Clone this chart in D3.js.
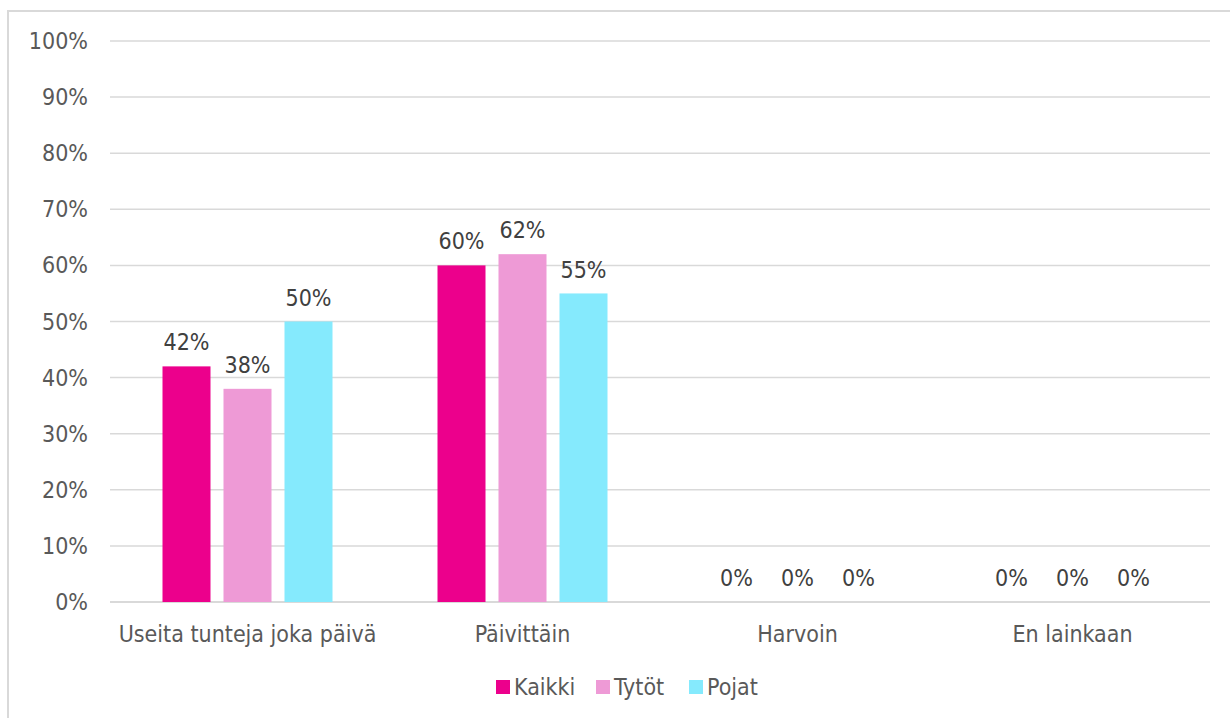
<!DOCTYPE html>
<html>
<head>
<meta charset="utf-8">
<script src="https://cdn.jsdelivr.net/npm/d3@7"></script>
<style>
  body { margin: 0; background: #fff; }
  svg { display: block; font-family: "DejaVu Sans Condensed", "DejaVu Sans", sans-serif; }
</style>
</head>
<body>
<div id="chart"></div>
<script>
// data
const categories = ["Useita tunteja joka päivä", "Päivittäin", "Harvoin", "En lainkaan"];
const seriesNames = ["Kaikki", "Tytöt", "Pojat"];
const kaikki = [42, 60, 0, 0];
const tytot = [38, 62, 0, 0];
const pojat = [50, 55, 0, 0];
const yTicks = [0, 10, 20, 30, 40, 50, 60, 70, 80, 90, 100];

const colors = ["#EC008C", "#EE9AD6", "#85EAFD"];
const seriesValues = [kaikki, tytot, pojat];

const W = 1230, H = 718;
const plot = {left: 110, right: 1210, top: 41, bottom: 602};

const svg = d3.select("#chart").append("svg")
    .attr("width", W)
    .attr("height", H);

// chart frame
svg.append("rect")
    .attr("x", 8).attr("y", 11)
    .attr("width", 1240).attr("height", 740)
    .attr("fill", "#fff")
    .attr("stroke", "#d9d9d9")
    .attr("stroke-width", 2);

const x0 = d3.scaleBand().domain(categories).range([plot.left, plot.right]);
const x1 = d3.scaleBand().domain(seriesNames).range([0, 170]).paddingInner(13 / 61).paddingOuter(0);
const groupOffset = (x0.bandwidth() - 170) / 2;
const y = d3.scaleLinear().domain([0, 100]).range([plot.bottom, plot.top]);

// gridlines
svg.append("g")
    .selectAll("line")
    .data(yTicks)
    .join("line")
    .attr("x1", plot.left).attr("x2", plot.right)
    .attr("y1", d => y(d)).attr("y2", d => y(d))
    .attr("stroke", "#d9d9d9")
    .attr("stroke-width", d => d === 0 ? 2 : 1.5);

// y labels
svg.append("g")
    .selectAll("text")
    .data(yTicks)
    .join("text")
    .attr("x", 88)
    .attr("y", d => y(d))
    .attr("dy", "0.35em")
    .attr("text-anchor", "end")
    .attr("fill", "#595959")
    .style("font-size", "23px")
    .text(d => d + "%");

// bars
const rows = [];
seriesNames.forEach((s, i) => {
  categories.forEach((c, j) => rows.push({series: s, cat: c, value: seriesValues[i][j], color: colors[i]}));
});

svg.append("g")
    .selectAll("rect")
    .data(rows)
    .join("rect")
    .attr("x", d => x0(d.cat) + groupOffset + x1(d.series))
    .attr("y", d => y(d.value))
    .attr("width", x1.bandwidth())
    .attr("height", d => y(0) - y(d.value))
    .attr("fill", d => d.color);

// data labels
svg.append("g")
    .selectAll("text")
    .data(rows)
    .join("text")
    .attr("x", d => x0(d.cat) + groupOffset + x1(d.series) + x1.bandwidth() / 2)
    .attr("y", d => y(d.value) - 24)
    .attr("dy", "0.35em")
    .attr("text-anchor", "middle")
    .attr("fill", "#404040")
    .style("font-size", "23px")
    .text(d => d.value + "%");

// x labels
svg.append("g")
    .selectAll("text")
    .data(categories)
    .join("text")
    .attr("x", d => x0(d) + x0.bandwidth() / 2)
    .attr("y", 634)
    .attr("dy", "0.35em")
    .attr("text-anchor", "middle")
    .attr("fill", "#595959")
    .style("font-size", "23px")
    .text(d => d);

// legend
const legendX = [496, 596, 689];
const legend = svg.append("g")
    .selectAll("g")
    .data(seriesNames)
    .join("g")
    .attr("transform", (d, i) => `translate(${legendX[i]},687)`);
legend.append("rect")
    .attr("x", 0).attr("y", -7)
    .attr("width", 14).attr("height", 14)
    .attr("fill", (d, i) => colors[i]);
legend.append("text")
    .attr("x", 18).attr("y", 0)
    .attr("dy", "0.35em")
    .attr("fill", "#595959")
    .style("font-size", "23px")
    .text(d => d);
</script>
</body>
</html>
